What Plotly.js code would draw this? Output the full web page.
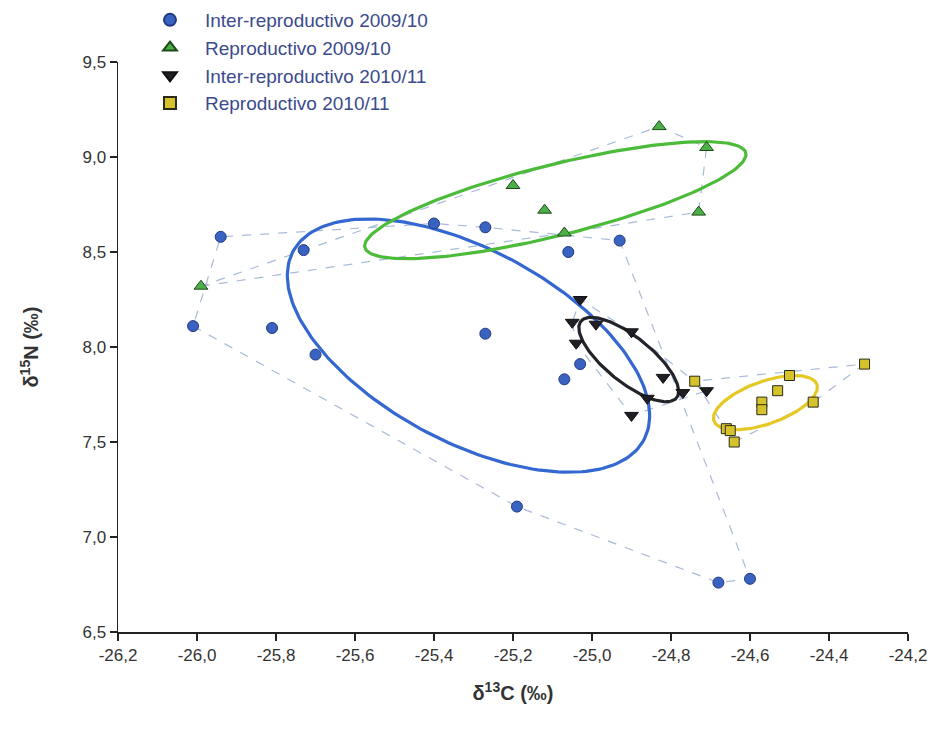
<!DOCTYPE html>
<html>
<head>
<meta charset="utf-8">
<script src="https://cdn.plot.ly/plotly-3.0.1.min.js"></script>
<style>html,body{margin:0;padding:0;background:#fff;}#chart{width:940px;height:729px;}</style>
</head>
<body>
<div id="chart"></div>
<script>
// ---- data ----
const seriesNames = ["Inter-reproductivo 2009/10", "Reproductivo 2009/10", "Inter-reproductivo 2010/11", "Reproductivo 2010/11"];

const interRep0910_C = [-25.94, -25.73, -25.40, -25.27, -25.06, -24.93, -26.01, -25.81, -25.70, -25.27, -25.03, -25.07, -25.19, -24.68, -24.60];
const interRep0910_N = [8.58, 8.51, 8.65, 8.63, 8.50, 8.56, 8.11, 8.10, 7.96, 8.07, 7.91, 7.83, 7.16, 6.76, 6.78];

const rep0910_C = [-25.99, -24.83, -24.71, -25.20, -25.12, -25.07, -24.73];
const rep0910_N = [8.32, 9.16, 9.05, 8.85, 8.72, 8.60, 8.71];

const interRep1011_C = [-25.03, -25.05, -24.99, -24.90, -25.04, -24.82, -24.86, -24.90, -24.77, -24.71];
const interRep1011_N = [8.25, 8.13, 8.12, 8.08, 8.02, 7.84, 7.73, 7.64, 7.76, 7.77];

const rep1011_C = [-24.74, -24.31, -24.50, -24.53, -24.57, -24.57, -24.44, -24.66, -24.65, -24.64];
const rep1011_N = [7.82, 7.91, 7.85, 7.77, 7.71, 7.67, 7.71, 7.57, 7.56, 7.50];

const xTickVals = [-26.2, -26.0, -25.8, -25.6, -25.4, -25.2, -25.0, -24.8, -24.6, -24.4, -24.2];
const xTickText = ["-26,2", "-26,0", "-25,8", "-25,6", "-25,4", "-25,2", "-25,0", "-24,8", "-24,6", "-24,4", "-24,2"];
const yTickVals = [6.5, 7.0, 7.5, 8.0, 8.5, 9.0, 9.5];
const yTickText = ["6,5", "7,0", "7,5", "8,0", "8,5", "9,0", "9,5"];

// ---- styles ----
const groups = [
  {x: interRep0910_C, y: interRep0910_N, symbol: "circle", fill: "#3a62c0", edge: "#1f3a80", size: 11, ell: "#3468d0"},
  {x: rep0910_C, y: rep0910_N, symbol: "triangle-up", fill: "#4caf47", edge: "#1e4a1a", size: 12, ell: "#4cbb3a"},
  {x: interRep1011_C, y: interRep1011_N, symbol: "triangle-down", fill: "#1e1e24", edge: "#111", size: 12, ell: "#22242a"},
  {x: rep1011_C, y: rep1011_N, symbol: "square", fill: "#d6c22a", edge: "#2a2a1a", size: 10, ell: "#e6c824"}
];

// convex hull (monotone chain)
function hull(xs, ys) {
  const p = xs.map((v, i) => [v, ys[i]]).sort((a, b) => a[0] - b[0] || a[1] - b[1]);
  const cross = (o, a, b) => (a[0] - o[0]) * (b[1] - o[1]) - (a[1] - o[1]) * (b[0] - o[0]);
  const lower = [], upper = [];
  for (const q of p) { while (lower.length >= 2 && cross(lower[lower.length - 2], lower[lower.length - 1], q) <= 0) lower.pop(); lower.push(q); }
  for (let i = p.length - 1; i >= 0; i--) { const q = p[i]; while (upper.length >= 2 && cross(upper[upper.length - 2], upper[upper.length - 1], q) <= 0) upper.pop(); upper.push(q); }
  upper.pop(); lower.pop();
  const h = lower.concat(upper); h.push(h[0]);
  return {x: h.map(q => q[0]), y: h.map(q => q[1])};
}

// small-sample corrected standard ellipse (SEAc) from sample covariance
function stdEllipse(xs, ys) {
  const n = xs.length;
  const mx = xs.reduce((a, b) => a + b, 0) / n, my = ys.reduce((a, b) => a + b, 0) / n;
  let sxx = 0, syy = 0, sxy = 0;
  for (let i = 0; i < n; i++) { const dx = xs[i] - mx, dy = ys[i] - my; sxx += dx * dx; syy += dy * dy; sxy += dx * dy; }
  sxx /= (n - 1); syy /= (n - 1); sxy /= (n - 1);
  const corr = Math.sqrt((n - 1) / (n - 2));
  const th = 0.5 * Math.atan2(2 * sxy, sxx - syy);
  const m = (sxx + syy) / 2, d = Math.sqrt(((sxx - syy) / 2) ** 2 + sxy * sxy);
  const a = Math.sqrt(m + d) * corr, b = Math.sqrt(Math.max(m - d, 0)) * corr;
  const ex = [], ey = [];
  for (let k = 0; k <= 200; k++) {
    const t = 2 * Math.PI * k / 200;
    ex.push(mx + a * Math.cos(t) * Math.cos(th) - b * Math.sin(t) * Math.sin(th));
    ey.push(my + a * Math.cos(t) * Math.sin(th) + b * Math.sin(t) * Math.cos(th));
  }
  return {x: ex, y: ey};
}

const traces = [];
groups.forEach(g => {
  const h = hull(g.x, g.y);
  traces.push({x: h.x, y: h.y, type: "scatter", mode: "lines", showlegend: false, hoverinfo: "skip",
    line: {color: "#a9bad8", width: 1.2, dash: "dash"}});
});
groups.forEach(g => {
  const e = stdEllipse(g.x, g.y);
  traces.push({x: e.x, y: e.y, type: "scatter", mode: "lines", showlegend: false, hoverinfo: "skip",
    line: {color: g.ell, width: 3.2}});
});
groups.forEach((g, i) => {
  traces.push({x: g.x, y: g.y, type: "scatter", mode: "markers", name: seriesNames[i],
    marker: {symbol: g.symbol, size: g.size, color: g.fill, line: {color: g.edge, width: 1}}});
});

const layout = {
  width: 940, height: 729,
  margin: {l: 118, r: 32, t: 62, b: 97, autoexpand: false},
  paper_bgcolor: "#fff", plot_bgcolor: "#fff",
  font: {family: "Liberation Sans, Arial, sans-serif", color: "#333"},
  showlegend: true,
  legend: {x: 0.0215, y: 1.107, xanchor: "left", yanchor: "top", bgcolor: "rgba(0,0,0,0)",
    font: {size: 19, color: "#3b4a8c"},
    itemwidth: 60, tracegroupgap: 0, itemsizing: "constant"},
  xaxis: {range: [-26.2, -24.2], tickvals: xTickVals, ticktext: xTickText,
    showgrid: false, zeroline: false, showline: true, linecolor: "#222", linewidth: 1.5,
    ticks: "outside", ticklen: 7, tickcolor: "#222", tickwidth: 1.5,
    tickfont: {size: 17, color: "#333", family: "Liberation Sans Narrow, Liberation Sans, Arial, sans-serif"},
    title: {text: "<b>δ<sup>13</sup>C (‰)</b>", font: {size: 20, color: "#333"}, standoff: 22}},
  yaxis: {range: [6.5, 9.5], tickvals: yTickVals, ticktext: yTickText,
    showgrid: false, zeroline: false, showline: true, linecolor: "#222", linewidth: 1.5,
    ticks: "outside", ticklen: 7, tickcolor: "#222", tickwidth: 1.5,
    tickfont: {size: 17, color: "#333"},
    title: {text: "<b>δ<sup>15</sup>N (‰)</b>", font: {size: 20, color: "#333"}, standoff: 38}}
};

Plotly.newPlot("chart", traces, layout, {displayModeBar: false, staticPlot: true});
</script>
</body>
</html>
